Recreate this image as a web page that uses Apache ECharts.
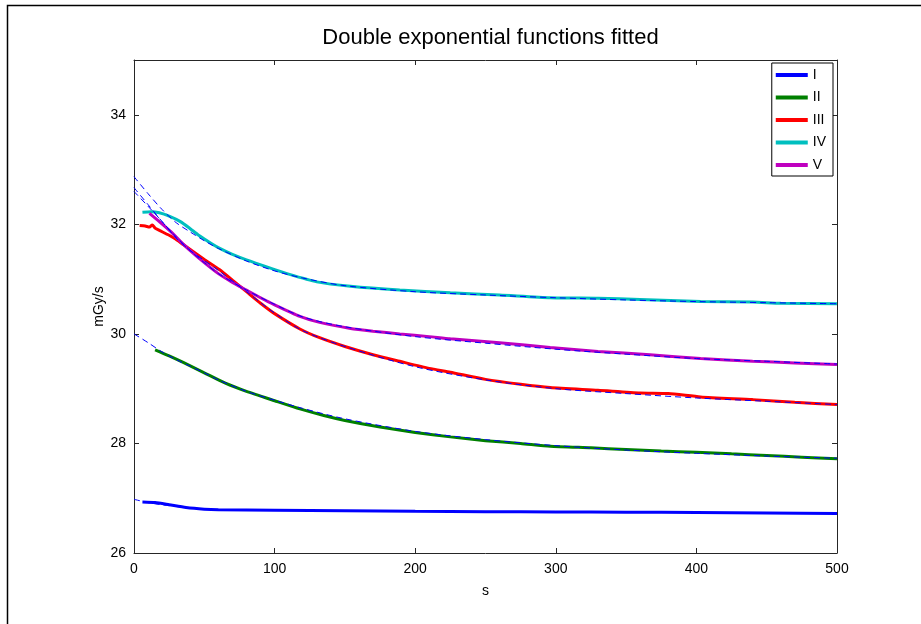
<!DOCTYPE html>
<html>
<head>
<meta charset="utf-8">
<script src="https://cdn.jsdelivr.net/npm/echarts@6/dist/echarts.min.js"></script>
<style>
  html, body { margin: 0; padding: 0; background: #fff; }
  #chart { width: 921px; height: 624px; }
</style>
</head>
<body>
<div id="chart"></div>
<script>
// Measured dose rate (mGy/s) against time (s) for five runs, with fitted curves
var seriesNames = ['I', 'II', 'III', 'IV', 'V'];
var seriesColors = ['#0000ff', '#008000', '#ff0000', '#00bfbf', '#bf00bf'];
var xTicks = [0, 100, 200, 300, 400, 500];
var yTicks = [26, 28, 30, 32, 34];

// Run I
var tI = [6, 15, 25, 37, 50, 60, 100, 150, 200, 250, 300, 350, 400, 450, 500];
var vI = [26.93, 26.92, 26.88, 26.83, 26.8, 26.79, 26.78, 26.77, 26.76, 26.755, 26.75, 26.745, 26.74, 26.73, 26.72];
// Run II
var tII = [15, 25, 35, 50, 65, 80, 100, 118, 135, 150, 175, 200, 225, 250, 275, 296, 325, 350, 375, 400, 425, 450, 475, 500];
var vII = [29.71, 29.6, 29.48, 29.29, 29.1, 28.95, 28.78, 28.63, 28.51, 28.42, 28.3, 28.2, 28.12, 28.05, 28.0, 27.95, 27.92, 27.89, 27.86, 27.84, 27.81, 27.78, 27.75, 27.72];
// Run III
var tIII = [4, 8, 11, 13, 15, 18, 25, 29, 35, 40, 50, 61, 70, 80, 90, 100, 118, 132, 150, 170, 189, 210, 225, 250, 275, 296, 330, 360, 380, 403, 440, 470, 500];
var vIII = [31.98, 31.97, 31.95, 31.99, 31.93, 31.89, 31.8, 31.74, 31.63, 31.54, 31.36, 31.17, 30.98, 30.77, 30.56, 30.37, 30.09, 29.93, 29.77, 29.62, 29.5, 29.37, 29.3, 29.17, 29.08, 29.02, 28.97, 28.92, 28.91, 28.85, 28.8, 28.75, 28.71];
// Run IV
var tIV = [6, 12, 18, 25, 33, 40, 46, 55, 61, 70, 80, 97, 110, 130, 154, 189, 225, 260, 296, 330, 360, 403, 440, 460, 500];
var vIV = [32.22, 32.23, 32.21, 32.15, 32.05, 31.92, 31.8, 31.65, 31.56, 31.45, 31.35, 31.2, 31.09, 30.95, 30.87, 30.8, 30.75, 30.71, 30.66, 30.65, 30.63, 30.59, 30.58, 30.56, 30.55];
// Run V
var tV = [11, 18, 26, 33, 40, 50, 60, 70, 80, 90, 100, 118, 132, 154, 170, 189, 210, 225, 260, 296, 330, 367, 403, 440, 470, 500];
var vV = [32.2, 32.05, 31.87, 31.69, 31.52, 31.3, 31.1, 30.94, 30.8, 30.66, 30.53, 30.32, 30.21, 30.1, 30.05, 30.0, 29.95, 29.91, 29.84, 29.75, 29.68, 29.62, 29.55, 29.5, 29.47, 29.44];

// Fitted double exponential curves, sampled
var fitT = [0, 10, 20, 30, 40, 50, 60, 80, 100, 120, 150, 200, 250, 300, 350, 400, 450, 500];
var fitI = [26.98, 26.92, 26.88, 26.85, 26.82, 26.8, 26.79, 26.785, 26.78, 26.775, 26.77, 26.76, 26.755, 26.75, 26.745, 26.74, 26.73, 26.72];
var fitII = [30.0, 29.84, 29.67, 29.53, 29.41, 29.29, 29.16, 28.95, 28.79, 28.64, 28.45, 28.22, 28.07, 27.96, 27.88, 27.82, 27.77, 27.73];
var fitIII = [32.6, 32.33, 32.05, 31.75, 31.52, 31.34, 31.16, 30.77, 30.38, 30.06, 29.77, 29.4, 29.16, 29.0, 28.91, 28.83, 28.77, 28.71];
var fitIV = [32.87, 32.56, 32.27, 32.03, 31.86, 31.7, 31.56, 31.33, 31.15, 31.02, 30.88, 30.77, 30.71, 30.66, 30.62, 30.59, 30.57, 30.55];
var fitV = [32.67, 32.36, 32.05, 31.77, 31.52, 31.3, 31.1, 30.8, 30.54, 30.31, 30.13, 29.95, 29.83, 29.72, 29.63, 29.55, 29.5, 29.45];

function pairs(xs, ys) {
  return xs.map(function (x, i) { return [x, ys[i]]; });
}

var runData = [pairs(tI, vI), pairs(tII, vII), pairs(tIII, vIII), pairs(tIV, vIV), pairs(tV, vV)];
var fitData = [fitI, fitII, fitIII, fitIV, fitV].map(function (f) { return pairs(fitT, f); });

var font = 'Liberation Sans, Arial, Helvetica, sans-serif';
var axisColor = '#262626';

var series = [];
runData.forEach(function (d, i) {
  series.push({
    name: seriesNames[i],
    type: 'line',
    data: d,
    showSymbol: false,
    smooth: 0.2,
    color: seriesColors[i],
    lineStyle: { width: 3, color: seriesColors[i] },
    z: 2
  });
});
fitData.forEach(function (d, i) {
  series.push({
    name: 'fit ' + seriesNames[i],
    type: 'line',
    data: d,
    showSymbol: false,
    smooth: 0.3,
    silent: true,
    lineStyle: { width: 1, color: '#0000ff', type: [6, 4] },
    z: 3
  });
});

function baseAxis(extra) {
  var a = {
    axisLine: { show: true, onZero: false, lineStyle: { color: axisColor, width: 1 } },
    axisTick: { show: true, inside: true, length: 5, lineStyle: { color: axisColor } },
    splitLine: { show: false },
    axisLabel: { color: '#000', fontFamily: font, fontSize: 14 }
  };
  for (var k in extra) a[k] = extra[k];
  return a;
}

var chart = echarts.init(document.getElementById('chart'), null, { renderer: 'canvas' });
chart.setOption({
  backgroundColor: '#ffffff',
  animation: false,
  title: {
    text: 'Double exponential functions fitted',
    left: 485.5,
    textAlign: 'center',
    top: 22,
    textStyle: { fontFamily: font, fontSize: 22, fontWeight: 'normal', color: '#000' }
  },
  legend: {
    data: seriesNames,
    orient: 'vertical',
    right: 88,
    top: 63,
    padding: [5, 7, 4, 4],
    itemGap: 8.5,
    itemWidth: 32,
    itemHeight: 4,
    icon: 'rect',
    backgroundColor: '#fff',
    borderColor: '#000',
    borderWidth: 1,
    borderRadius: 0,
    textStyle: { fontFamily: font, fontSize: 14, color: '#000', padding: [0, 0, 0, 0] }
  },
  grid: { left: 134, right: 84, top: 60, bottom: 71, containLabel: false },
  xAxis: [
    baseAxis({
      type: 'value', min: xTicks[0], max: xTicks[xTicks.length - 1], interval: 100,
      name: 's', nameLocation: 'middle', nameGap: 31, nameMoveOverlap: false,
      nameTextStyle: { fontFamily: font, fontSize: 14, color: '#000' },
      axisLabel: { color: '#000', fontFamily: font, fontSize: 14, margin: 9 }
    }),
    baseAxis({
      type: 'value', position: 'top', min: xTicks[0], max: xTicks[xTicks.length - 1], interval: 100,
      axisLabel: { show: false }
    })
  ],
  yAxis: [
    baseAxis({
      type: 'value', min: yTicks[0], max: 35, interval: 2,
      name: 'mGy/s', nameLocation: 'middle', nameGap: 28, nameRotate: 90, nameMoveOverlap: false,
      nameTextStyle: { fontFamily: font, fontSize: 14, color: '#000' },
      axisLabel: {
        color: '#000', fontFamily: font, fontSize: 14, margin: 8, showMaxLabel: false,
        formatter: function (v) { return yTicks.indexOf(v) >= 0 ? String(v) : ''; }
      }
    }),
    baseAxis({
      type: 'value', position: 'right', min: yTicks[0], max: 35, interval: 2,
      axisLabel: { show: false }
    })
  ],
  graphic: [
    {
      type: 'polyline',
      shape: { points: [[7.5, 624], [7.5, 5.5], [921, 5.5]] },
      style: { stroke: '#000', lineWidth: 1.5, fill: null },
      silent: true
    }
  ],
  series: series
});
</script>
</body>
</html>
